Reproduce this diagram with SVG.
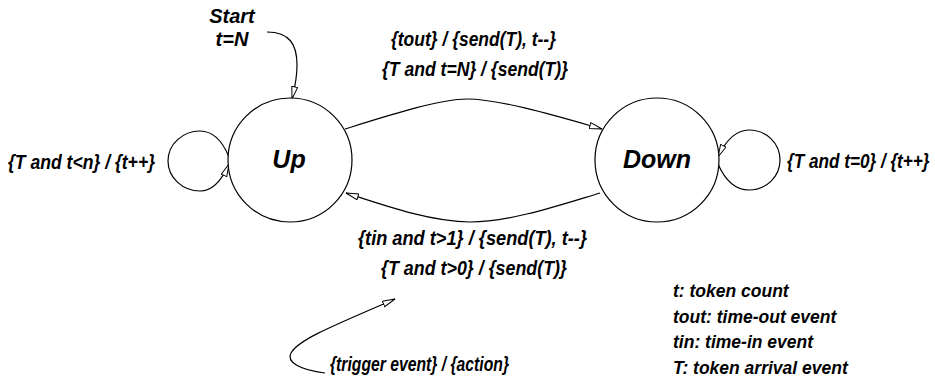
<svg xmlns="http://www.w3.org/2000/svg" width="935" height="388" viewBox="0 0 935 388">
<defs>
<marker id="arr" markerUnits="userSpaceOnUse" markerWidth="16" markerHeight="10" refX="13" refY="3.5" orient="auto">
<path d="M0.5,0.5 L13,3.5 L0.5,6.5 Z" fill="#fff" stroke="#000" stroke-width="1"/>
</marker>
<style>
.st{fill:#fff;stroke:#000;stroke-width:1.2}
.ed{fill:none;stroke:#000;stroke-width:1.2;marker-end:url(#arr)}
.nm{font-family:"Liberation Sans",Arial,sans-serif;font-weight:bold;font-style:italic;font-size:25px;text-anchor:middle}
.lb{font-family:"Liberation Sans",Arial,sans-serif;font-weight:bold;font-style:italic;font-size:19.5px}
.bl{font-family:"Liberation Sans",Arial,sans-serif;font-weight:bold;font-style:italic}
</style>
</defs>
<rect width="935" height="388" fill="#fff"/>
<g id="connectors">
<path class="ed" d="M267,32 C290,32 297,45 297,65 C297,80 294,90 292,99"/>
<path class="ed" d="M345,129 C390,115 440,99 467,99 C500,99 560,117 602,129"/>
<path class="ed" d="M600,193 C560,205 510,222 470,222 C430,222 380,204 346,193"/>
<path class="ed" d="M229,157 C222,140 212,131 200,131 C183,131 168,144 168,161 C168,178 183,191 200,191 C212,191 222,180 229,164"/>
<path class="ed" d="M718,164 C725,180 735,190 749,190 C766,190 780,177 780,160 C780,143 766,130 749,130 C737,130 726,140 718,157"/>
<path class="ed" d="M325,373 C300,370 286,362 291,353 C298,340 330,327 395,299"/>
</g>
<g id="node-up">
<circle class="st" cx="290" cy="160" r="62"/>
<text class="nm" x="289" y="168">Up</text>
</g>
<g id="node-down">
<circle class="st" cx="657" cy="160" r="62"/>
<text class="nm" x="657" y="168">Down</text>
</g>
<g id="start-label">
<text class="bl" x="232" y="23" font-size="20" text-anchor="middle">Start</text>
<text class="bl" x="232" y="46" font-size="20" text-anchor="middle">t=N</text>
</g>
<g id="labels">
<text class="lb" x="391" y="46" textLength="165" lengthAdjust="spacingAndGlyphs">{tout} / {send(T), t--}</text>
<text class="lb" x="382" y="76" textLength="186" lengthAdjust="spacingAndGlyphs">{T and t=N} / {send(T)}</text>
<text class="lb" x="358" y="245" textLength="229" lengthAdjust="spacingAndGlyphs">{tin and t&gt;1} / {send(T), t--}</text>
<text class="lb" x="381" y="275" textLength="186" lengthAdjust="spacingAndGlyphs">{T and t&gt;0} / {send(T)}</text>
<text class="lb" x="8" y="169" textLength="147" lengthAdjust="spacingAndGlyphs">{T and t&lt;n} / {t++}</text>
<text class="lb" transform="translate(787,168) scale(0.88,1)" x="0" y="0">{T and t=0} / {t++}</text>
<text class="lb" x="330" y="371" textLength="179" lengthAdjust="spacingAndGlyphs">{trigger event} / {action}</text>
</g>
<g id="legend" class="bl" font-size="17.5">
<text x="673" y="297">t: token count</text>
<text x="673" y="323">tout: time-out event</text>
<text x="673" y="348">tin: time-in event</text>
<text x="673" y="374">T: token arrival event</text>
</g>
</svg>
